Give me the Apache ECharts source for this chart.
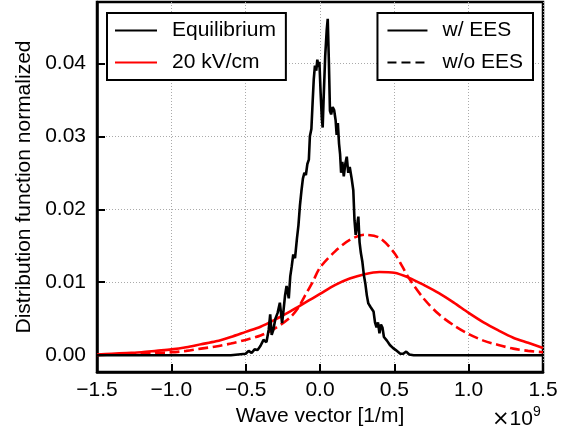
<!DOCTYPE html>
<html>
<head>
<meta charset="utf-8">
<script src="https://cdn.jsdelivr.net/npm/echarts@6/dist/echarts.min.js"></script>
<style>
  html, body { margin: 0; padding: 0; background: #fff; }
  #chart { width: 563px; height: 434px; }
</style>
</head>
<body>
<div id="chart"></div>
<script>
// wave vector in units of 1e9 1/m
const xTicks = [-1.5, -1.0, -0.5, 0.0, 0.5, 1.0, 1.5]
const yTicks = [0, 0.01, 0.02, 0.03, 0.04]

// equilibrium distribution (noisy)
const eqX = [-1.5, -0.6, -0.55, -0.5, -0.48, -0.46, -0.44, -0.42, -0.40, -0.38, -0.36, -0.345, -0.335, -0.325, -0.315, -0.30, -0.285, -0.27, -0.255, -0.245, -0.235, -0.225, -0.21, -0.2, -0.19, -0.18, -0.168, -0.155, -0.145, -0.135, -0.125, -0.115, -0.105, -0.095, -0.085, -0.075, -0.068, -0.058, -0.05, -0.042, -0.034, -0.025, -0.018, -0.01, -0.004, 0.004, 0.012, 0.018, 0.025, 0.035, 0.045, 0.052, 0.06, 0.067, 0.075, 0.085, 0.095, 0.105, 0.112, 0.12, 0.128, 0.135, 0.142, 0.15, 0.16, 0.17, 0.18, 0.19, 0.2, 0.213, 0.224, 0.232, 0.24, 0.248, 0.258, 0.266, 0.275, 0.285, 0.295, 0.305, 0.315, 0.325, 0.34, 0.36, 0.37, 0.38, 0.39, 0.40, 0.41, 0.42, 0.43, 0.45, 0.47, 0.49, 0.51, 0.54, 0.56, 0.58, 0.60, 0.63, 1.5]
const eqY = [0, 0, 0.0001, 0.0002, 0.0006, 0.0003, 0.0008, 0.0007, 0.0013, 0.0021, 0.0018, 0.0035, 0.0056, 0.0028, 0.0034, 0.0050, 0.0058, 0.0072, 0.0044, 0.0062, 0.0082, 0.0095, 0.0078, 0.0108, 0.0122, 0.0138, 0.0133, 0.0160, 0.0178, 0.0205, 0.0225, 0.0242, 0.0250, 0.0247, 0.0262, 0.0268, 0.0300, 0.0310, 0.0345, 0.0378, 0.0397, 0.0390, 0.0405, 0.0395, 0.0402, 0.0360, 0.0325, 0.0312, 0.0355, 0.0410, 0.0445, 0.0461, 0.0400, 0.0335, 0.0330, 0.0340, 0.0336, 0.0322, 0.0302, 0.0318, 0.0290, 0.0276, 0.0250, 0.0265, 0.0245, 0.0262, 0.0272, 0.0250, 0.0258, 0.0242, 0.0226, 0.0185, 0.0165, 0.0175, 0.0190, 0.0155, 0.0140, 0.0128, 0.0110, 0.0098, 0.0082, 0.0071, 0.0066, 0.0060, 0.0045, 0.0038, 0.0045, 0.0030, 0.0042, 0.0038, 0.0025, 0.0020, 0.0014, 0.0010, 0.0007, 0.0002, 0.0002, 0.0005, 0.0001, 0, 0]

// 20 kV/cm, with and without EES
const fieldX = [-1.5, -1.4, -1.3, -1.2, -1.1, -1.0, -0.9, -0.8, -0.7, -0.6, -0.5, -0.4, -0.3, -0.2, -0.15, -0.1, -0.05, 0.0, 0.1, 0.2, 0.3, 0.4, 0.5, 0.6, 0.7, 0.8, 0.9, 1.0, 1.1, 1.2, 1.3, 1.4, 1.5]
const withEES = [0.0001, 0.0002, 0.0003, 0.0004, 0.0006, 0.0008, 0.0011, 0.0015, 0.0019, 0.0025, 0.0032, 0.0039, 0.0049, 0.0060, 0.0066, 0.0072, 0.0078, 0.0084, 0.0096, 0.0105, 0.0111, 0.0114, 0.0113, 0.0106, 0.0096, 0.0085, 0.0072, 0.0058, 0.0045, 0.0034, 0.0024, 0.0017, 0.0010]
const withoutEES = [0.0000, 0.0001, 0.0001, 0.0002, 0.0003, 0.0004, 0.0006, 0.0009, 0.0012, 0.0016, 0.0021, 0.0027, 0.0037, 0.0052, 0.0064, 0.0082, 0.0100, 0.0120, 0.0142, 0.0158, 0.0165, 0.0161, 0.0140, 0.0105, 0.0077, 0.0056, 0.0041, 0.0029, 0.0020, 0.0014, 0.0009, 0.0006, 0.0004]

const font = 'Liberation Sans'
const fs = 21
const zip = (xs, ys) => xs.map((x, i) => [x, ys[i]])

const chart = echarts.init(document.getElementById('chart'))

const legendBase = {
  orient: 'vertical',
  top: 13,
  itemGap: 11,
  itemHeight: 14,
  backgroundColor: '#fff',
  borderColor: '#000',
  borderWidth: 2,
  borderRadius: 0,
  itemStyle: { opacity: 0 },
  textStyle: { fontFamily: font, fontSize: fs, color: '#000', padding: [0, 0, 0, 10] },
  selectedMode: false
}

const option = {
  animation: false,
  textStyle: { fontFamily: font },
  // axis scale factor, bottom right
  title: [
    {
      text: '{m|\u00d7}10', left: 492, top: 409, padding: 0,
      textStyle: {
        fontFamily: font, fontSize: fs, fontWeight: 'normal', color: '#000',
        rich: { m: { fontFamily: 'DejaVu Sans', fontSize: fs, color: '#000' } }
      }
    },
    { text: '9', left: 533, top: 405, padding: 0, textStyle: { fontFamily: font, fontSize: 14, fontWeight: 'normal', color: '#000' } }
  ],
  grid: {
    left: 97, right: 20, top: 2, bottom: 62,
    show: true, borderColor: '#000', borderWidth: 2.5, backgroundColor: 'transparent'
  },
  legend: [
    Object.assign({}, legendBase, {
      left: 107,
      itemWidth: 42,
      padding: [7, 10, 7, 7],
      data: ['Equilibrium', '20 kV/cm']
    }),
    Object.assign({}, legendBase, {
      right: 30,
      itemWidth: 40,
      padding: [7, 10, 7, 9],
      data: ['w/ EES', 'w/o EES']
    })
  ],
  xAxis: {
    type: 'value',
    min: -1.5, max: 1.5, interval: 0.5,
    name: 'Wave vector [1/m]',
    nameLocation: 'middle',
    nameGap: 31,
    nameTextStyle: { fontFamily: font, fontSize: fs, color: '#000' },
    axisLine: { show: true, onZero: false, lineStyle: { color: '#000', width: 2.5 } },
    axisTick: { inside: true, length: 8, lineStyle: { color: '#000', width: 2 } },
    axisLabel: {
      margin: 8, fontFamily: font, fontSize: fs, color: '#000',
      formatter: v => (v < 0 ? '\u2212' : '') + Math.abs(v).toFixed(1)
    },
    splitLine: { show: true, lineStyle: { color: '#aaa', width: 1, type: [1, 2] } }
  },
  yAxis: {
    type: 'value',
    min: -0.0023, max: 0.0484,
    name: 'Distribution function normalized',
    nameLocation: 'middle',
    nameGap: 60,
    nameTextStyle: { fontFamily: font, fontSize: fs, color: '#000' },
    axisLine: { show: true, onZero: false, lineStyle: { color: '#000', width: 2.5 } },
    axisTick: { inside: true, length: 8, customValues: yTicks, lineStyle: { color: '#000', width: 2 } },
    axisLabel: {
      margin: 11, fontFamily: font, fontSize: fs, color: '#000',
      customValues: yTicks,
      formatter: v => v.toFixed(2)
    },
    splitLine: { show: true, lineStyle: { color: '#aaa', width: 1, type: [1, 2] } }
  },
  series: [
    {
      name: 'Equilibrium', type: 'line', data: zip(eqX, eqY),
      symbol: 'none', lineStyle: { color: '#000', width: 2.6 }, itemStyle: { color: '#000' }, z: 3
    },
    {
      name: '20 kV/cm', type: 'line', data: zip(fieldX, withEES), smooth: 0.3,
      symbol: 'none', lineStyle: { color: '#ff0000', width: 2.6 }, itemStyle: { color: '#ff0000' }, z: 2
    },
    {
      name: '20 kV/cm w/o EES', type: 'line', data: zip(fieldX, withoutEES), smooth: 0.3,
      symbol: 'none', lineStyle: { color: '#ff0000', width: 2.6, type: [10, 4.5] }, itemStyle: { color: '#ff0000' }, z: 2
    },
    {
      name: 'w/ EES', type: 'line', data: [],
      symbol: 'none', lineStyle: { color: '#000', width: 2.6 }, itemStyle: { color: '#000' }
    },
    {
      name: 'w/o EES', type: 'line', data: [],
      symbol: 'none', lineStyle: { color: '#000', width: 2.6, type: [9, 5] }, itemStyle: { color: '#000' }
    }
  ]
}

chart.setOption(option)
</script>
</body>
</html>
